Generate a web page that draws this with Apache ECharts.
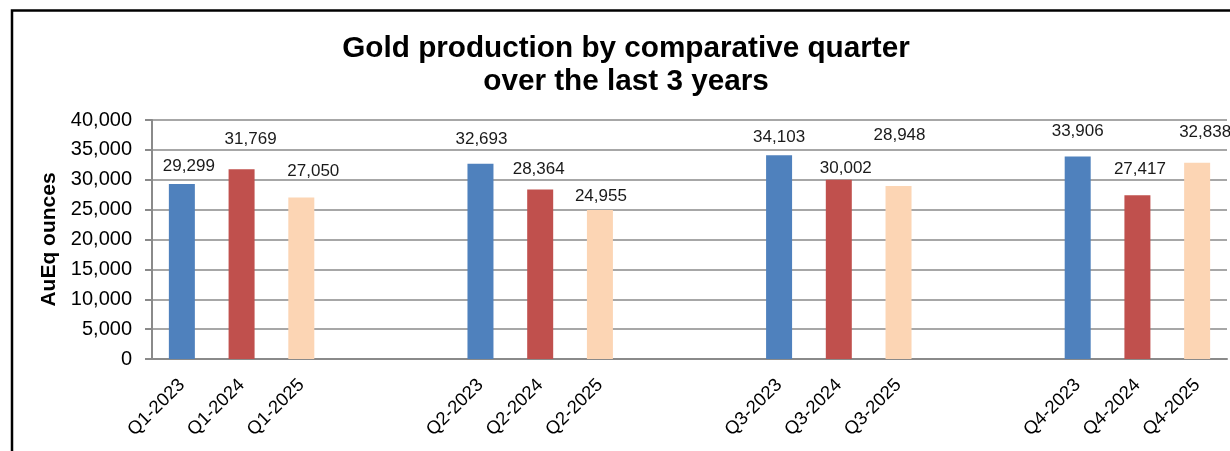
<!DOCTYPE html>
<html>
<head>
<meta charset="utf-8">
<title>Gold production by comparative quarter</title>
<script src="https://cdn.jsdelivr.net/npm/echarts@6/dist/echarts.min.js"></script>
<style>
  html, body { margin: 0; padding: 0; background: #fff; }
  #chart { width: 1230px; height: 451px; }
</style>
</head>
<body>
<div id="chart"></div>
<script>
// Quarterly gold production (AuEq ounces), one array per year
const quarters = ['Q1', 'Q2', 'Q3', 'Q4'];
const years = ['2023', '2024', '2025'];
const prod2023 = [29299, 32693, 34103, 33906];
const prod2024 = [31769, 28364, 30002, 27417];
const prod2025 = [27050, 24955, 28948, 32838];
const yTicks = [0, 5000, 10000, 15000, 20000, 25000, 30000, 35000, 40000];

// Hand-placed value labels: [dx, dy] pixel nudges per year, per quarter
const labelNudge2023 = [[7, -9.5], [1, -15.5], [0, -9.5], [0, -16.5]];
const labelNudge2024 = [[9, -21.5], [-1.5, -11.5], [7, -2.5], [2.5, -17.5]];
const labelNudge2025 = [[12, -17.5], [1, -5.5], [1, -42.5], [8, -21.5]];

const FONT = '"Liberation Sans", Arial, Helvetica, sans-serif';
const GRID_GRAY = '#8a8a8a';
const GAP_SLOTS = 2; // empty category slots between quarter groups

// Build the category axis: each quarter's three years, then blank spacer slots
const categories = [];
const slotOf = {}; // "q|y" -> category index
quarters.forEach((q, qi) => {
  years.forEach((y) => {
    slotOf[q + '|' + y] = categories.length;
    categories.push(q + '-' + y);
  });
  if (qi < quarters.length - 1) {
    for (let g = 0; g < GAP_SLOTS; g++) categories.push(' '.repeat(qi * GAP_SLOTS + g + 1));
  }
});

const fmt = (v) => Number(v).toLocaleString('en-US');

function buildSeries(year, values, nudges, color) {
  const data = categories.map(() => '-');
  quarters.forEach((q, qi) => {
    data[slotOf[q + '|' + year]] = {
      value: values[qi],
      label: { offset: nudges[qi] }
    };
  });
  return {
    name: year,
    type: 'bar',
    data: data,
    barWidth: 26,
    barGap: '-100%',
    itemStyle: { color: color },
    label: {
      show: true,
      position: 'top',
      distance: 0,
      fontFamily: FONT,
      fontSize: 17,
      color: '#1a1a1a',
      formatter: (p) => fmt(p.value)
    },
    animation: false
  };
}

const chart = echarts.init(document.getElementById('chart'), null, { renderer: 'canvas' });

chart.setOption({
  backgroundColor: '#ffffff',
  animation: false,
  title: {
    text: 'Gold production by comparative quarter\nover the last 3 years',
    left: 621,
    top: 27,
    textAlign: 'center',
    textStyle: {
      fontFamily: FONT,
      fontSize: 29.7,
      fontWeight: 'bold',
      lineHeight: 33,
      color: '#000'
    }
  },
  graphic: [{
    type: 'rect',
    shape: { x: 12, y: 10.5, width: 1300, height: 500 },
    style: { fill: 'none', stroke: '#000', lineWidth: 2.5 },
    silent: true
  }],
  grid: { left: 152, top: 120, right: 3, bottom: 92 },
  xAxis: {
    type: 'category',
    data: categories,
    axisLine: { show: true, lineStyle: { color: GRID_GRAY, width: 2 } },
    axisTick: { show: false },
    axisLabel: {
      interval: 0,
      rotate: 45,
      margin: 23,
      fontFamily: FONT,
      fontSize: 18.5,
      color: '#000'
    }
  },
  yAxis: {
    type: 'value',
    min: yTicks[0],
    max: yTicks[yTicks.length - 1],
    interval: yTicks[1] - yTicks[0],
    name: 'AuEq ounces',
    nameLocation: 'middle',
    nameGap: 92,
    nameTextStyle: {
      fontFamily: FONT,
      fontSize: 21,
      fontWeight: 'bold',
      color: '#000'
    },
    axisLine: { show: true, lineStyle: { color: GRID_GRAY, width: 2 } },
    axisTick: { show: true, length: 7, lineStyle: { color: GRID_GRAY, width: 2 } },
    axisLabel: {
      margin: 20,
      fontFamily: FONT,
      fontSize: 20,
      color: '#000',
      formatter: (v) => fmt(v)
    },
    splitLine: { show: true, lineStyle: { color: GRID_GRAY, width: 1.5 } }
  },
  series: [
    buildSeries('2023', prod2023, labelNudge2023, '#4f81bd'),
    buildSeries('2024', prod2024, labelNudge2024, '#c0504d'),
    buildSeries('2025', prod2025, labelNudge2025, '#fcd5b4')
  ]
});
</script>
</body>
</html>
